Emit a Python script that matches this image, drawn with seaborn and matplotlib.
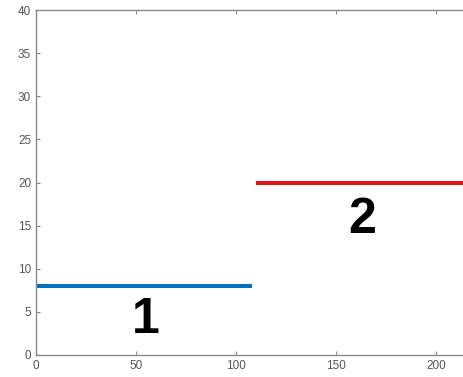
import pandas as pd
import seaborn as sns
from matplotlib import pyplot as plt

# two constant levels, one per segment
seg_labels = ["1", "2"]
seg_start = [0, 110]
seg_end = [108, 220]
seg_level = [8, 20]
seg_colors = ["#0072BD", "#E8101A"]

x_ticks = [0, 50, 100, 150, 200]
y_ticks = [0, 5, 10, 15, 20, 25, 30, 35, 40]

rows = []
for lab, x0, x1, lvl in zip(seg_labels, seg_start, seg_end, seg_level):
    rows.append({"x": x0, "y": lvl, "segment": lab})
    rows.append({"x": x1, "y": lvl, "segment": lab})
df = pd.DataFrame(rows)

sns.set_style("white")
plt.rcParams["font.family"] = ["Liberation Sans", "DejaVu Sans"]

fig = plt.figure(figsize=(4.64, 3.77), dpi=100)
ax = fig.add_axes([0.0776, 0.0584, 0.9224, 0.915])

sns.lineplot(data=df, x="x", y="y", hue="segment", palette=seg_colors,
             linewidth=2.9, legend=False, ax=ax)
for ln in ax.lines:
    ln.set_solid_capstyle("butt")

# big segment numbers under each line
for lab, x0, lvl in zip(seg_labels, [55, 163], [4.0, 15.7]):
    ax.text(x0, lvl, lab, fontsize=36, fontweight="bold", ha="center",
            va="center", color="black")

ax.set_xlim(0, 214)
ax.set_ylim(0, 40)
ax.set_xticks(x_ticks)
ax.set_yticks(y_ticks)
ax.set_xlabel("")
ax.set_ylabel("")

gray = "#555555"
for side in ["left", "bottom", "top"]:
    ax.spines[side].set_color("#888888")
    ax.spines[side].set_linewidth(1.0)
ax.spines["right"].set_visible(False)
ax.tick_params(direction="in", length=3, width=0.8, color="#888888",
               labelcolor=gray, labelsize=8.5, top=True, bottom=True, left=True)

fig.savefig("out.png", dpi=100)
